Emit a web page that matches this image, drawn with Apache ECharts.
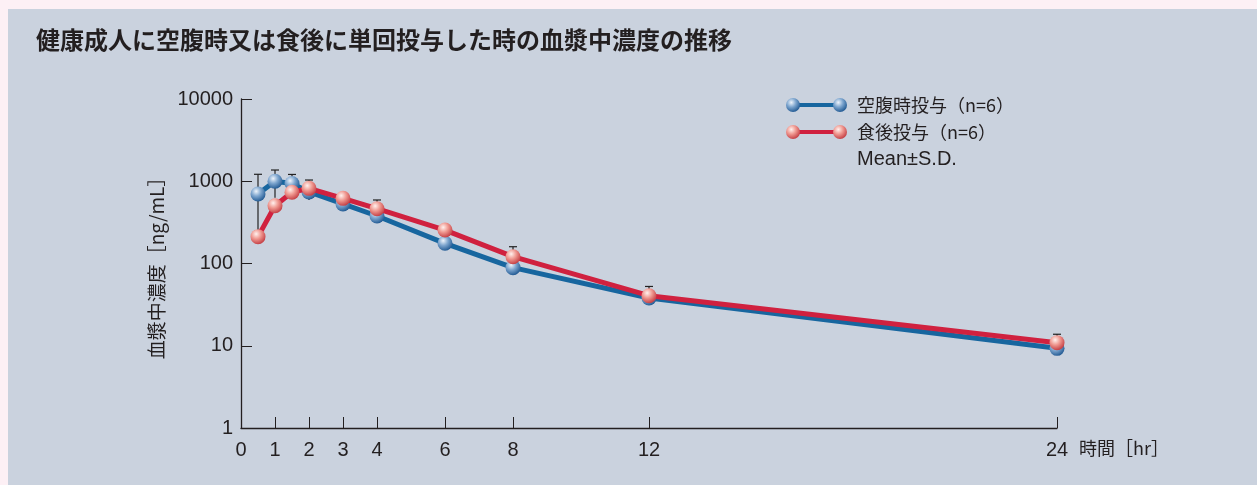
<!DOCTYPE html>
<html>
<head>
<meta charset="utf-8">
<script src="https://cdn.jsdelivr.net/npm/echarts@6/dist/echarts.min.js"></script>
<style>
  html, body { margin: 0; padding: 0; background: #fdf0f5; }
  #chart { width: 1257px; height: 485px; }
</style>
</head>
<body>
<div id="chart"></div>
<script>
// Sampling times [hr]
const times = [0.5, 1, 1.5, 2, 3, 4, 6, 8, 12, 24];

// Mean plasma concentration [ng/mL] and S.D.
const fastingMean = [700, 1000, 940, 740, 530, 378, 176, 89, 38, 9.3];
const fastingSD   = [515, 370, 270, 150, 80, 60, 30, 12, 4, 1.5];
const fedMean     = [212, 504, 734, 820, 620, 464, 255, 121, 40.6, 10.9];
const fedSD       = [35, 80, 120, 215, 90, 128, 40, 39, 12, 2.9];

const seriesNames = ['空腹時投与（n=6）', '食後投与（n=6）'];
const noteText = 'Mean±S.D.';

const xTickValues = [1, 2, 3, 4, 6, 8, 12, 24];
const xLabelValues = [0, 1, 2, 3, 4, 6, 8, 12, 24];

const titleText = '健康成人に空腹時又は食後に単回投与した時の血漿中濃度の推移';
const yAxisName = '血漿中濃度［ng/mL］';
const xAxisName = '時間［hr］';

const LATIN = '"Liberation Sans", Arial, sans-serif';
const CJK = '"Noto Sans CJK JP", sans-serif';
const INK = '#231f20';

const BLUE = '#17669f';
const RED = '#d0213f';

function sphere(light, mid, dark) {
  return {
    type: 'radial', x: 0.38, y: 0.32, r: 0.72,
    colorStops: [
      { offset: 0, color: light },
      { offset: 0.45, color: mid },
      { offset: 1, color: dark }
    ]
  };
}
const blueBall = sphere('#eef4fb', '#7ea6cf', '#1d5690');
const redBall = sphere('#fff1ee', '#f09a92', '#c23a40');

function pairs(xs, ys) { return xs.map((x, i) => [x, ys[i]]); }
function errData(xs, m, sd) { return xs.map((x, i) => [x, m[i], sd[i]]); }

// Whisker drawn upward with a cap; the downward part (plain line) only when asked
function errorBars(name, data, withLower) {
  return {
    type: 'custom',
    name: name + '_sd',
    z: 1,
    silent: true,
    data: data,
    renderItem: function (params, api) {
      const x = api.value(0), m = api.value(1), s = api.value(2);
      const top = api.coord([x, m + s]);
      const mid = api.coord([x, m]);
      const bot = api.coord([x, Math.max(m - s, 1.0001)]);
      const cap = 4;
      const st = { stroke: '#222', lineWidth: 1.2 };
      const children = [
        { type: 'line', shape: { x1: top[0], y1: top[1], x2: mid[0], y2: mid[1] }, style: st },
        { type: 'line', shape: { x1: top[0] - cap, y1: top[1], x2: top[0] + cap, y2: top[1] }, style: st }
      ];
      if (withLower) {
        children.push({ type: 'line', shape: { x1: mid[0], y1: mid[1], x2: bot[0], y2: bot[1] }, style: st });
      }
      return { type: 'group', children: children };
    }
  };
}

function legendItem(y, lineColor, ball, label) {
  return {
    type: 'group',
    children: [
      { type: 'line', shape: { x1: 793, y1: y, x2: 840, y2: y }, style: { stroke: lineColor, lineWidth: 4 } },
      { type: 'circle', shape: { cx: 793, cy: y, r: 7 }, style: { fill: ball } },
      { type: 'circle', shape: { cx: 840, cy: y, r: 7 }, style: { fill: ball } },
      { type: 'text', x: 857, y: y, style: { text: label, font: '18px ' + CJK, fill: INK, verticalAlign: 'middle' } }
    ]
  };
}

const chart = echarts.init(document.getElementById('chart'), null, { renderer: 'canvas' });

chart.setOption({
  backgroundColor: '#fdf0f5',
  animation: false,
  title: {
    text: titleText,
    left: 36,
    top: 28,
    padding: 0,
    textStyle: { fontSize: 24, fontWeight: 'bold', color: INK, fontFamily: CJK }
  },
  graphic: [
    { type: 'rect', z: -10, shape: { x: 8, y: 9, width: 1260, height: 480 }, style: { fill: '#cad2de' } },
    legendItem(105, BLUE, blueBall, seriesNames[0]),
    legendItem(132, RED, redBall, seriesNames[1]),
    { type: 'text', x: 857, y: 159, style: { text: noteText, font: '20px ' + LATIN, fill: INK, verticalAlign: 'middle' } }
  ],
  grid: { left: 241, top: 99, right: 200, bottom: 57, containLabel: false },
  xAxis: {
    type: 'value',
    min: 0,
    max: 24,
    name: xAxisName,
    nameLocation: 'end',
    nameGap: 22,
    nameTextStyle: { fontSize: 18, color: INK, fontFamily: CJK, verticalAlign: 'top', padding: [11, 0, 0, 0] },
    axisLine: { show: true, lineStyle: { color: INK, width: 1.3 } },
    axisTick: { show: true, inside: true, length: 11, customValues: xTickValues, lineStyle: { color: INK, width: 1 } },
    axisLabel: { show: true, customValues: xLabelValues, margin: 12, fontSize: 20, color: INK, fontFamily: LATIN },
    splitLine: { show: false }
  },
  yAxis: {
    type: 'log',
    logBase: 10,
    min: 1,
    max: 10000,
    name: yAxisName,
    nameLocation: 'middle',
    nameGap: 66,
    nameTextStyle: { fontSize: 19, color: INK, fontFamily: CJK },
    axisLine: { show: true, lineStyle: { color: INK, width: 1.3 } },
    axisTick: { show: true, inside: true, length: 11, lineStyle: { color: INK, width: 1 } },
    axisLabel: { margin: 8, fontSize: 20, color: INK, fontFamily: LATIN, formatter: v => String(Math.round(v)) },
    splitLine: { show: false }
  },
  series: [
    errorBars(seriesNames[0], errData(times, fastingMean, fastingSD), true),
    errorBars(seriesNames[1], errData(times, fedMean, fedSD), false),
    {
      type: 'line',
      name: seriesNames[0],
      z: 3,
      data: pairs(times, fastingMean),
      symbol: 'circle',
      symbolSize: 15,
      lineStyle: { color: BLUE, width: 5 },
      itemStyle: { color: blueBall, borderWidth: 0 }
    },
    {
      type: 'line',
      name: seriesNames[1],
      z: 4,
      data: pairs(times, fedMean),
      symbol: 'circle',
      symbolSize: 15,
      lineStyle: { color: RED, width: 5 },
      itemStyle: { color: redBall, borderWidth: 0 }
    }
  ]
});
</script>
</body>
</html>
